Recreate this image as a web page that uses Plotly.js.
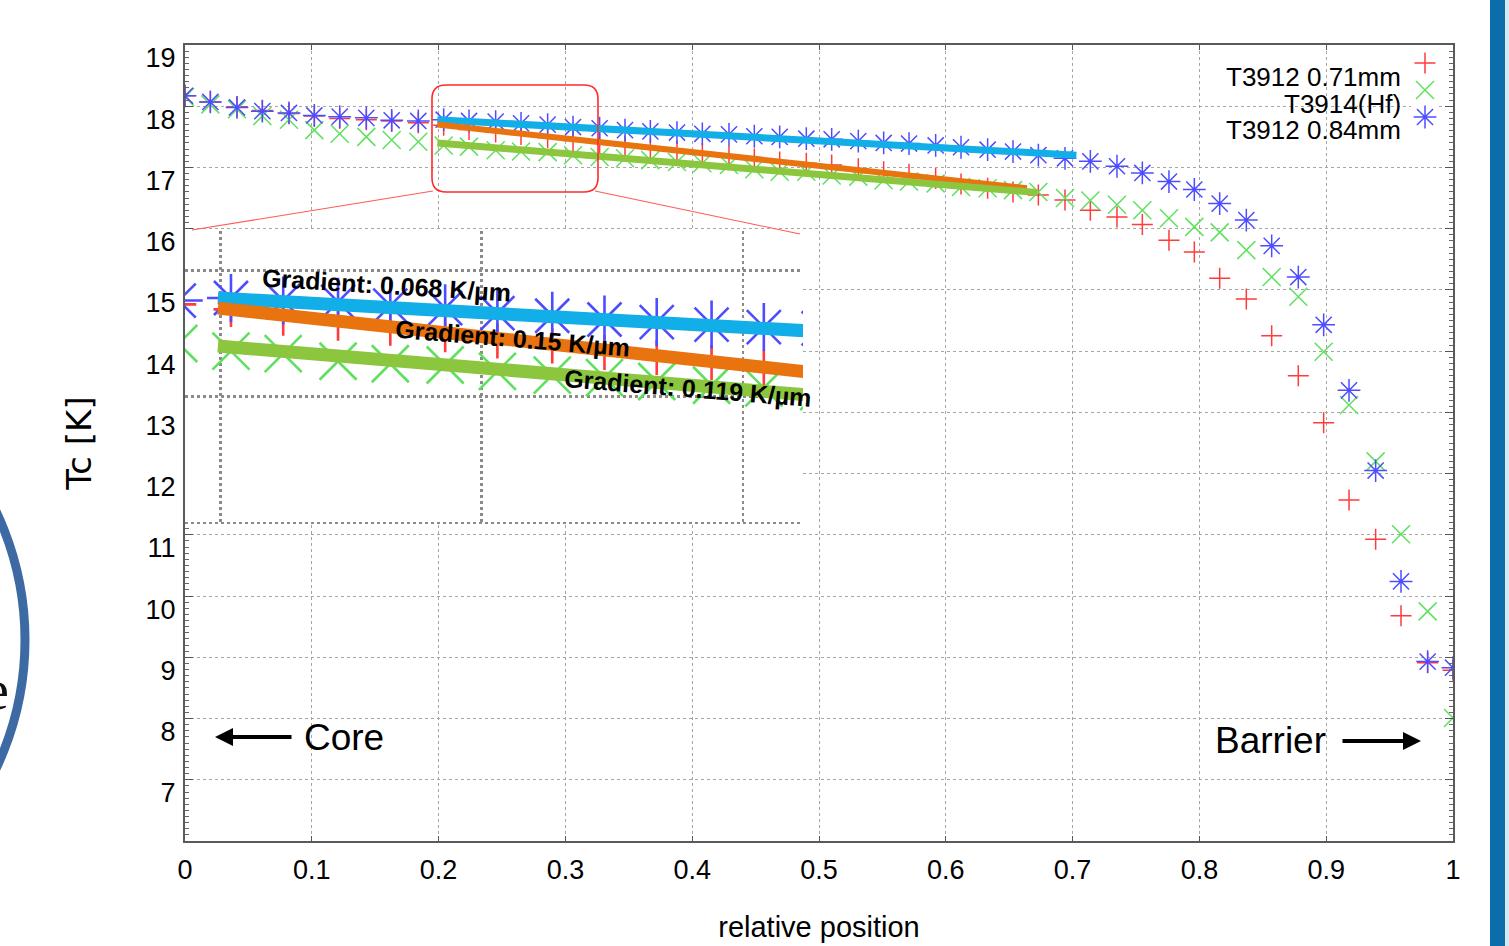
<!DOCTYPE html>
<html>
<head>
<meta charset="utf-8">
<script src="https://cdn.plot.ly/plotly-3.0.1.min.js"></script>
<style>html,body{margin:0;padding:0;background:#fff;}#chart{width:1509px;height:946px;}</style>
</head>
<body>
<div id="chart"></div>
<script>
// ---------------- data ----------------
const position = [0, 0.02, 0.041, 0.061, 0.082, 0.102, 0.122, 0.143, 0.163, 0.184,
  0.204, 0.224, 0.245, 0.265, 0.286, 0.306, 0.327, 0.347, 0.367, 0.388,
  0.408, 0.429, 0.449, 0.469, 0.490, 0.510, 0.531, 0.551, 0.571, 0.592,
  0.612, 0.633, 0.653, 0.673, 0.694, 0.714, 0.735, 0.755, 0.776, 0.796,
  0.816, 0.837, 0.857, 0.878, 0.898, 0.918, 0.939, 0.959, 0.980, 1.0];

const tcT3912_071 = [18.17, 18.07, 17.99, 17.93, 17.88, 17.84, 17.80, 17.78, 17.76, 17.73,
  17.69, 17.62, 17.58, 17.54, 17.49, 17.44, 17.40, 17.35, 17.31, 17.27,
  17.23, 17.19, 17.14, 17.09, 17.07, 17.04, 16.98, 16.93, 16.89, 16.82,
  16.73, 16.66, 16.60, 16.55, 16.47, 16.30, 16.19, 16.07, 15.81, 15.62,
  15.19, 14.85, 14.25, 13.60, 12.83, 11.57, 10.93, 9.68, 8.91, 8.79];

const tcT3914Hf = [18.15, 18.03, 17.95, 17.84, 17.78, 17.61, 17.55, 17.50, 17.45, 17.42,
  17.36, 17.34, 17.28, 17.26, 17.25, 17.20, 17.17, 17.15, 17.12, 17.09,
  17.07, 17.04, 16.97, 16.93, 16.93, 16.87, 16.85, 16.79, 16.77, 16.74,
  16.68, 16.66, 16.63, 16.60, 16.50, 16.46, 16.39, 16.30, 16.17, 16.03,
  15.94, 15.65, 15.21, 14.89, 13.99, 13.12, 12.20, 11.01, 9.75, 8.01];

const tcT3912_084 = [18.17, 18.07, 17.98, 17.92, 17.89, 17.85, 17.83, 17.81, 17.77, 17.76,
  17.78, 17.76, 17.75, 17.72, 17.70, 17.66, 17.64, 17.61, 17.59, 17.57,
  17.55, 17.54, 17.51, 17.50, 17.47, 17.46, 17.43, 17.40, 17.39, 17.36,
  17.33, 17.29, 17.26, 17.20, 17.15, 17.10, 17.02, 16.91, 16.77, 16.64,
  16.41, 16.14, 15.72, 15.21, 14.43, 13.36, 12.05, 10.24, 8.93, 8.83];

const seriesNames = ['T3912 0.71mm', 'T3914(Hf)', 'T3912 0.84mm'];

// linear fits (start / end of each fitted segment)
const fitCyanX = [0.199, 0.703],   fitCyanY = [17.78, 17.20];
const fitOrangeX = [0.199, 0.664], fitOrangeY = [17.70, 16.66];
const fitGreenX = [0.199, 0.672],  fitGreenY = [17.40, 16.59];
const gradientLabels = ['Gradient: 0.068 K/µm', 'Gradient: 0.15 K/µm', 'Gradient: 0.119 K/µm'];

const xTickVals = [0, 0.1, 0.2, 0.3, 0.4, 0.5, 0.6, 0.7, 0.8, 0.9, 1];
const xTickText = ['0', '0.1', '0.2', '0.3', '0.4', '0.5', '0.6', '0.7', '0.8', '0.9', '1'];
const yTickVals = [7, 8, 9, 10, 11, 12, 13, 14, 15, 16, 17, 18, 19];
const legendRows = [2.5, 1.5, 0.5];

// ---------------- styling ----------------
const SANS = "'Liberation Sans', Arial, sans-serif";
const RED = '#ff3b3b', GREEN = '#5fe05f', BLUE = '#4d4dff';
const CYAN = '#12aee8', ORANGE = '#e8730f', LGREEN = '#8cc63f';
const SYM = ['cross-thin', 'x-thin', 'asterisk'];
const COLS = [RED, GREEN, BLUE];
const SERIES = [tcT3912_071, tcT3914Hf, tcT3912_084];
const MAIN_SIZE = [15, 18, 19];
const INSET_SIZE = [25, 37, 40];

// pixel -> paper helpers
const L = 185, R = 1453, T = 45, B = 841, W = R - L, H = B - T;
const px = x => (x - L) / W;
const py = y => (B - y) / H;
function rrPath(x0, y0, x1, y1, r) {
  const p = (x, y) => px(x).toFixed(5) + ',' + py(y).toFixed(5);
  return 'M' + p(x0 + r, y0) + ' L' + p(x1 - r, y0) + ' Q' + p(x1, y0) + ' ' + p(x1, y0 + r) +
    ' L' + p(x1, y1 - r) + ' Q' + p(x1, y1) + ' ' + p(x1 - r, y1) +
    ' L' + p(x0 + r, y1) + ' Q' + p(x0, y1) + ' ' + p(x0, y1 - r) +
    ' L' + p(x0, y0 + r) + ' Q' + p(x0, y0) + ' ' + p(x0 + r, y0) + ' Z';
}

const traces = [];
// main markers
SERIES.forEach((s, k) => traces.push({
  x: position, y: s, type: 'scatter', mode: 'markers', name: seriesNames[k], showlegend: false,
  marker: { symbol: SYM[k], size: MAIN_SIZE[k], color: COLS[k], line: { color: COLS[k], width: 1.5 } }
}));
// main fit lines
[[fitCyanX, fitCyanY, CYAN, 7], [fitOrangeX, fitOrangeY, ORANGE, 6], [fitGreenX, fitGreenY, LGREEN, 7]].forEach(f =>
  traces.push({ x: f[0], y: f[1], type: 'scatter', mode: 'lines', showlegend: false, line: { color: f[2], width: f[3] } }));
// inset markers
SERIES.forEach((s, k) => traces.push({
  x: position, y: s, xaxis: 'x2', yaxis: 'y2', type: 'scatter', mode: 'markers', showlegend: false,
  marker: { symbol: SYM[k], size: INSET_SIZE[k], color: COLS[k], line: { color: COLS[k], width: 2.6 } }
}));
// inset fit lines
[[fitCyanX, fitCyanY, CYAN], [fitOrangeX, fitOrangeY, ORANGE], [fitGreenX, fitGreenY, LGREEN]].forEach(f =>
  traces.push({ x: f[0], y: f[1], xaxis: 'x2', yaxis: 'y2', type: 'scatter', mode: 'lines', showlegend: false, line: { color: f[2], width: 13 } }));
// legend keys
SERIES.forEach((s, k) => traces.push({
  x: [0.5], y: [legendRows[k]], xaxis: 'x3', yaxis: 'y3', type: 'scatter', mode: 'markers', showlegend: false, cliponaxis: false,
  marker: { symbol: SYM[k], size: MAIN_SIZE[k], color: COLS[k], line: { color: COLS[k], width: 1.5 } }
}));

const annotations = [];
// legend text
seriesNames.forEach((n, k) => annotations.push({
  xref: 'paper', yref: 'paper', x: px(1403), y: py([77, 103.5, 130][k]), xanchor: 'right', yanchor: 'middle',
  text: n, showarrow: false, font: { family: SANS, size: 26, color: '#000' }
}));
// gradient labels in the inset
[[386, 285, 3.5], [512, 338, 4.6], [688, 388, 4.6]].forEach((g, k) => annotations.push({
  xref: 'paper', yref: 'paper', x: px(g[0]), y: py(g[1]), xanchor: 'center', yanchor: 'middle', textangle: g[2],
  text: '<b>' + gradientLabels[k] + '</b>', showarrow: false, font: { family: SANS, size: 25, color: '#000' }
}));
// Core / Barrier
annotations.push({ xref: 'paper', yref: 'paper', x: px(302), y: py(737), text: 'Core', showarrow: false,
  xanchor: 'left', yanchor: 'middle', font: { family: SANS, size: 37, color: '#000' } });
annotations.push({ xref: 'paper', yref: 'paper', x: px(215), y: py(737), text: '', showarrow: true,
  ax: 78, ay: 0, arrowhead: 2, arrowsize: 0.9, arrowwidth: 4, arrowcolor: '#000', standoff: 0 });
annotations.push({ xref: 'paper', yref: 'paper', x: px(1328), y: py(740), text: 'Barrier', showarrow: false,
  xanchor: 'right', yanchor: 'middle', font: { family: SANS, size: 37, color: '#000' } });
annotations.push({ xref: 'paper', yref: 'paper', x: px(1421), y: py(741), text: '', showarrow: true,
  ax: -80, ay: 0, arrowhead: 2, arrowsize: 0.9, arrowwidth: 4, arrowcolor: '#000', standoff: 0 });
// stray slide glyph at left edge
annotations.push({ xref: 'paper', yref: 'paper', x: px(11), y: py(690), text: 'e', showarrow: false,
  xanchor: 'right', yanchor: 'middle', font: { family: "'Liberation Serif', serif", size: 56, color: '#111' } });

const shapes = [
  // zoom box
  { type: 'path', xref: 'paper', yref: 'paper', path: rrPath(432, 85, 598, 192, 14), layer: 'above',
    line: { color: '#ff2a2a', width: 1.6 } },
  { type: 'line', xref: 'paper', yref: 'paper', x0: px(433), y0: py(191), x1: px(192), y1: py(230), layer: 'above',
    line: { color: '#ff5a5a', width: 1.1 } },
  { type: 'line', xref: 'paper', yref: 'paper', x0: px(595), y0: py(191), x1: px(800), y1: py(234), layer: 'above',
    line: { color: '#ff5a5a', width: 1.1 } },
  // slide decoration: right bar
  { type: 'rect', xref: 'paper', yref: 'paper', x0: px(1490), x1: px(1505), y0: py(946), y1: py(0), layer: 'above',
    fillcolor: '#0b6dab', line: { width: 0 } },
  { type: 'rect', xref: 'paper', yref: 'paper', x0: px(1505), x1: px(1509), y0: py(946), y1: py(0), layer: 'above',
    fillcolor: '#d9e7f2', line: { width: 0 } },
  // slide decoration: ring at left edge
  { type: 'circle', xref: 'paper', yref: 'paper', x0: px(-575), x1: px(25), y0: py(940), y1: py(340), layer: 'above',
    line: { color: '#3d6aa2', width: 9 } }
];

const gridStyle = { showgrid: true, gridcolor: '#a6a6a6', griddash: 'dot', gridwidth: 1 };
const layout = {
  width: 1509, height: 946,
  margin: { l: L, r: 1509 - R, t: T, b: 946 - B, pad: 0 },
  paper_bgcolor: '#fff', plot_bgcolor: '#fff',
  font: { family: SANS, color: '#000' },
  showlegend: false,
  xaxis: Object.assign({
    domain: [0, 1], range: [0, 1], tickmode: 'array', tickvals: xTickVals, ticktext: xTickText,
    ticks: 'inside', ticklen: 5, tickcolor: '#555', showline: true, linecolor: '#5a5a5a', linewidth: 2, mirror: 'ticks',
    zeroline: false, tickfont: { family: SANS, size: 27 }, ticklabelstandoff: 4, automargin: false,
    title: { text: 'relative position', font: { family: SANS, size: 29 }, standoff: 32 }
  }, gridStyle),
  yaxis: Object.assign({
    domain: [0, 1], range: [6, 19], tickmode: 'array', tickvals: yTickVals,
    ticks: 'inside', ticklen: 8, tickcolor: '#555', showline: true, linecolor: '#5a5a5a', linewidth: 2, mirror: 'ticks',
    minor: { dtick: 0.1, ticks: 'inside', ticklen: 4, tickcolor: '#666', showgrid: false },
    zeroline: false, tickfont: { family: SANS, size: 27 }, ticklabelshift: 13, ticklabelstandoff: 2, automargin: false,
    title: { text: 'Tc [K]', font: { family: "'DejaVu Sans', sans-serif", size: 34 }, standoff: 44 }
  }, gridStyle),
  xaxis2: {
    domain: [px(185), px(803)], anchor: 'y2', range: [0.1864, 0.4230], tickmode: 'array', tickvals: [0.2, 0.3, 0.4],
    showticklabels: false, ticks: '', showline: false, zeroline: false,
    showgrid: true, gridcolor: '#8a8a8a', griddash: 'dot', gridwidth: 2.6
  },
  yaxis2: {
    domain: [py(525), py(231)], anchor: 'x2', range: [15.985, 18.31], tickmode: 'array', tickvals: [16, 17, 18],
    showticklabels: false, ticks: '', showline: false, zeroline: false,
    showgrid: true, gridcolor: '#8a8a8a', griddash: 'dot', gridwidth: 2.6
  },
  xaxis3: { domain: [px(1411), px(1439)], anchor: 'y3', range: [0, 1], visible: false },
  yaxis3: { domain: [py(130.5), py(49.5)], anchor: 'x3', range: [0, 3], visible: false },
  annotations: annotations,
  shapes: shapes
};

Plotly.newPlot('chart', traces, layout, { staticPlot: true, displayModeBar: false });
</script>
</body>
</html>
